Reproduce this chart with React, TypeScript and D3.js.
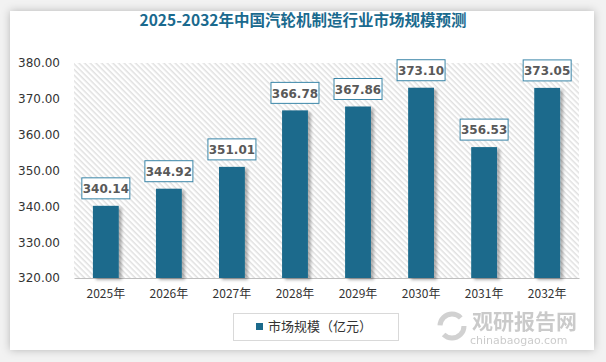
import React, { useRef, useEffect } from 'react';
import * as d3 from 'd3';

const years = ['2025年', '2026年', '2027年', '2028年', '2029年', '2030年', '2031年', '2032年'];
const marketSize = [340.14, 344.92, 351.01, 366.78, 367.86, 373.1, 356.53, 373.05];
const yTicks = [320, 330, 340, 350, 360, 370, 380];
const seriesName = '市场规模（亿元）';
const title = '2025-2032年中国汽轮机制造行业市场规模预测';

const W = 606;
const H = 362;
const margin = { top: 63, right: 27, bottom: 84, left: 74 };
const numFont = '"DejaVu Sans", Verdana, sans-serif';
const cjkFont = '"Noto Sans CJK SC", "DejaVu Sans", sans-serif';
const barColor = '#1b6a8c';

const App = () => {
    const svgRef = useRef<SVGSVGElement>(null);

    useEffect(() => {
        const svg = d3.select(svgRef.current);
        svg.selectAll('*').remove();

        const defs = svg.append('defs');
        const pat = defs.append('pattern')
            .attr('id', 'hatch')
            .attr('patternUnits', 'userSpaceOnUse')
            .attr('width', 4)
            .attr('height', 4)
            .attr('patternTransform', 'rotate(45)');
        pat.append('rect').attr('width', 4).attr('height', 4).attr('fill', '#ffffff');
        pat.append('rect').attr('width', 4).attr('height', 1.5).attr('fill', '#e0e0e0');

        const card = defs.append('filter').attr('id', 'cardShadow')
            .attr('x', '-5%').attr('y', '-5%').attr('width', '110%').attr('height', '110%');
        card.append('feDropShadow').attr('dx', 0).attr('dy', 0).attr('stdDeviation', 4)
            .attr('flood-color', '#000').attr('flood-opacity', 0.25);

        const barSh = defs.append('filter').attr('id', 'barShadow')
            .attr('x', '-20%').attr('y', '-10%').attr('width', '160%').attr('height', '130%');
        barSh.append('feDropShadow').attr('dx', 3).attr('dy', 2).attr('stdDeviation', 1.5)
            .attr('flood-color', '#000').attr('flood-opacity', 0.3);

        // 背景与卡片
        svg.append('rect').attr('width', W).attr('height', H).attr('fill', '#f2f2f2');
        svg.append('rect')
            .attr('x', 10).attr('y', 11).attr('width', 584).attr('height', 339)
            .attr('fill', '#ffffff')
            .attr('filter', 'url(#cardShadow)');

        svg.append('text')
            .attr('x', 303).attr('y', 26)
            .attr('text-anchor', 'middle')
            .attr('font-family', cjkFont)
            .attr('font-size', 15.5)
            .attr('font-weight', 'bold')
            .attr('fill', '#1a6a8e')
            .text(title);

        const x = d3.scaleBand()
            .domain(years)
            .range([margin.left, W - margin.right])
            .paddingInner(0.59)
            .paddingOuter(0.3);

        const y = d3.scaleLinear()
            .domain([320, 380])
            .range([H - margin.bottom, margin.top]);

        // 网纹绘图区
        svg.append('rect')
            .attr('x', margin.left).attr('y', margin.top)
            .attr('width', W - margin.right - margin.left)
            .attr('height', H - margin.bottom - margin.top)
            .attr('fill', 'url(#hatch)');

        // Y 轴
        const yAxis = svg.append('g')
            .attr('transform', `translate(${margin.left},0)`)
            .call(d3.axisLeft(y).tickValues(yTicks).tickFormat(d3.format('.2f')).tickSize(0).tickPadding(14));
        yAxis.select('.domain').remove();
        yAxis.selectAll('text')
            .attr('font-family', numFont)
            .attr('font-size', 12)
            .attr('fill', '#333');

        // X 轴
        const xAxis = svg.append('g')
            .attr('transform', `translate(0,${H - margin.bottom})`)
            .call(d3.axisBottom(x).tickSize(0).tickPadding(11));
        xAxis.select('.domain').attr('stroke', '#bfbfbf').attr('stroke-width', 1.2);
        xAxis.selectAll('text')
            .attr('font-family', cjkFont)
            .attr('font-size', 12)
            .attr('fill', '#333');

        // 柱子
        svg.selectAll('.bar')
            .data(marketSize)
            .enter()
            .append('rect')
            .attr('class', 'bar')
            .attr('x', (d, i) => x(years[i]) as number)
            .attr('y', d => y(d))
            .attr('width', x.bandwidth())
            .attr('height', d => y(320) - y(d))
            .attr('fill', barColor)
            .attr('filter', 'url(#barShadow)');

        // 数据标签
        const lbl = svg.selectAll('.lbl')
            .data(marketSize)
            .enter()
            .append('g')
            .attr('class', 'lbl')
            .attr('transform', (d, i) => `translate(${(x(years[i]) as number) + x.bandwidth() / 2},${y(d) - 17})`);
        lbl.append('rect')
            .attr('x', -24).attr('y', -11)
            .attr('width', 48).attr('height', 21)
            .attr('fill', '#ffffff')
            .attr('stroke', '#3b86a8')
            .attr('stroke-width', 1);
        lbl.append('text')
            .attr('text-anchor', 'middle')
            .attr('dy', '0.35em')
            .attr('font-family', numFont)
            .attr('font-size', 12)
            .attr('font-weight', 'bold')
            .attr('fill', '#595959')
            .text(d => d3.format('.2f')(d));

        // 图例
        const lg = svg.append('g');
        lg.append('rect')
            .attr('x', 233.5).attr('y', 313.5).attr('width', 165).attr('height', 27)
            .attr('fill', '#fff').attr('stroke', '#d9d9d9');
        lg.append('rect')
            .attr('x', 256).attr('y', 323).attr('width', 7).attr('height', 7)
            .attr('fill', barColor);
        lg.append('text')
            .attr('x', 268).attr('y', 331)
            .attr('font-family', cjkFont)
            .attr('font-size', 13)
            .attr('fill', '#333')
            .text(seriesName);

        // 水印
        const wm = svg.append('g').attr('opacity', 0.45);
        wm.append('circle').attr('cx', 452).attr('cy', 326).attr('r', 12)
            .attr('fill', 'none').attr('stroke', '#9a9a9a').attr('stroke-width', 5)
            .attr('stroke-dasharray', '28 10');
        wm.append('text')
            .attr('x', 472).attr('y', 329)
            .attr('font-family', cjkFont)
            .attr('font-size', 21)
            .attr('font-weight', 'bold')
            .attr('fill', '#8c8c8c')
            .text('观研报告网');
        wm.append('text')
            .attr('x', 470).attr('y', 344)
            .attr('font-family', numFont)
            .attr('font-size', 11)
            .attr('fill', '#8c8c8c')
            .text('chinabaogao.com');
    }, []);

    return (
        <svg
            ref={svgRef}
            width={W}
            height={H}
            style={{ position: 'fixed', left: 0, top: 0, display: 'block' }}
        />
    );
};

export default App;
